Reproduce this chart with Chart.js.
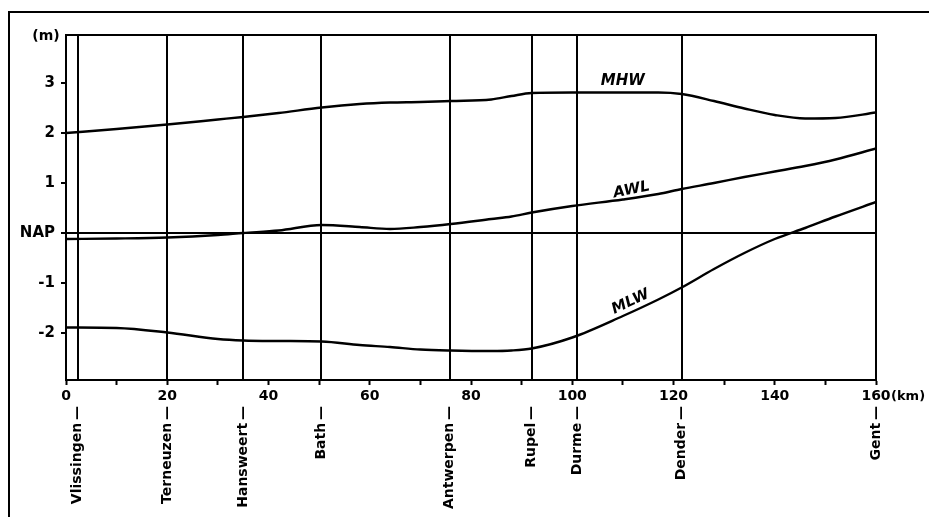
<!DOCTYPE html>
<html>
<head>
<meta charset="utf-8">
<script src="https://cdn.jsdelivr.net/npm/chart.js@4/dist/chart.umd.min.js"></script>
<style>
    html, body { margin: 0; padding: 0; background: #fff; }
    #wrap { position: relative; width: 929px; height: 517px; }
</style>
</head>
<body>
<div id="wrap"><canvas id="tideChart" width="929" height="517"></canvas></div>
<script>
// distance along the estuary (km)
var km  = [0, 10, 20, 30, 35, 42, 50.5, 58, 64, 70, 76, 84, 88, 92, 100, 110, 117, 121.6, 128, 134, 140, 146, 152, 160];
// water levels (m relative to NAP)
var mhw = [2.00, 2.08, 2.17, 2.27, 2.32, 2.40, 2.51, 2.58, 2.61, 2.62, 2.64, 2.67, 2.74, 2.80, 2.81, 2.81, 2.81, 2.78, 2.64, 2.49, 2.36, 2.29, 2.30, 2.41];
var awl = [-0.12, -0.11, -0.09, -0.04, 0.00, 0.05, 0.16, 0.12, 0.08, 0.12, 0.18, 0.28, 0.33, 0.41, 0.54, 0.67, 0.78, 0.88, 1.00, 1.12, 1.23, 1.34, 1.47, 1.69];
var mlw = [-1.89, -1.90, -1.99, -2.12, -2.15, -2.16, -2.17, -2.24, -2.28, -2.33, -2.35, -2.36, -2.35, -2.31, -2.09, -1.66, -1.33, -1.09, -0.72, -0.40, -0.12, 0.10, 0.33, 0.62];

// stations along the river
var stations   = ['Vlissingen', 'Terneuzen', 'Hansweert', 'Bath', 'Antwerpen', 'Rupel', 'Durme', 'Dender', 'Gent'];
var stationKm  = [2.3, 20, 35, 50.4, 75.8, 92, 101, 121.6, 160];

var yTicks = [-2, -1, 0, 1, 2, 3];
var xTicksMajor = [0, 20, 40, 60, 80, 100, 120, 140, 160];

var FONT = '"DejaVu Sans", sans-serif';

function pts(ys) {
    return km.map(function (k, i) { return {x: k, y: ys[i]}; });
}

function lineSet(name, ys) {
    return {
        label: name,
        data: pts(ys),
        borderColor: '#000',
        borderWidth: 2.4,
        pointRadius: 0,
        fill: false,
        cubicInterpolationMode: 'monotone'
    };
}

// stations, curve names, frame and units
var decor = {
    id: 'decor',
    beforeDatasetsDraw: function (chart) {
        var c = chart.ctx, xs = chart.scales.x, a = chart.chartArea;
        c.save();
        c.strokeStyle = '#000';
        c.lineWidth = 2;
        stationKm.forEach(function (k) {
            var x = Math.round(xs.getPixelForValue(k));
            c.beginPath();
            c.moveTo(x, a.top);
            c.lineTo(x, a.bottom);
            c.stroke();
        });
        // box round the plot
        c.strokeRect(a.left, a.top, a.right - a.left, a.bottom - a.top);
        c.restore();
    },
    afterDraw: function (chart) {
        var c = chart.ctx, xs = chart.scales.x, ys = chart.scales.y;
        c.save();
        c.fillStyle = '#000';
        c.strokeStyle = '#000';

        // outer frame (top and left only)
        c.lineWidth = 2;
        c.beginPath();
        c.moveTo(9, 517);
        c.lineTo(9, 12);
        c.lineTo(929, 12);
        c.stroke();

        // station names under the axis
        c.font = 'bold 14px ' + FONT;
        c.textAlign = 'right';
        c.textBaseline = 'middle';
        stations.forEach(function (s, i) {
            var x = xs.getPixelForValue(stationKm[i]);
            c.save();
            c.translate(x, 406);
            c.rotate(-Math.PI / 2);
            c.fillText(s + '\u2009\u2014', 0, 0);
            c.restore();
        });

        // units
        c.font = 'bold 14px ' + FONT;
        c.textAlign = 'center';
        c.fillText('(m)', 46, 36);
        c.textAlign = 'left';
        c.textBaseline = 'top';
        c.font = 'bold 13px ' + FONT;
        c.fillText('(km)', xs.getPixelForValue(160) + 15, 390);

        // curve names
        c.font = 'italic bold 15px ' + FONT;
        c.textAlign = 'center';
        c.textBaseline = 'middle';
        var names = [['MHW', 110, 3.04, 0], ['AWL', 111.7, 0.86, -0.2], ['MLW', 111.5, -1.38, -0.44]];
        names.forEach(function (n) {
            c.save();
            c.translate(xs.getPixelForValue(n[1]), ys.getPixelForValue(n[2]));
            c.rotate(n[3]);
            c.fillText(n[0], 0, 0);
            c.restore();
        });
        c.restore();
    }
};

var ctx = document.getElementById('tideChart');
var tideChart = new Chart(ctx, {
    type: 'line',
    data: {
        datasets: [lineSet('MHW', mhw), lineSet('AWL', awl), lineSet('MLW', mlw)]
    },
    options: {
        responsive: false,
        animation: false,
        devicePixelRatio: 1,
        layout: { padding: { top: 35, right: 53, left: 0, bottom: 0 } },
        plugins: { legend: { display: false }, tooltip: { enabled: false } },
        scales: {
            x: {
                type: 'linear',
                min: 0,
                max: 160,
                afterFit: function (s) { s.height = 137; },
                ticks: {
                    stepSize: 10,
                    autoSkip: false,
                    maxRotation: 0,
                    padding: 3,
                    color: '#000',
                    font: { family: FONT, size: 14, weight: 'bold' },
                    callback: function (v) { return xTicksMajor.indexOf(v) >= 0 ? String(v) : ''; }
                },
                grid: { drawOnChartArea: false, drawTicks: true, tickLength: 5, tickColor: '#000', tickWidth: 2 },
                border: { display: true, color: '#000', width: 2 }
            },
            y: {
                type: 'linear',
                min: -2.94,
                max: 3.96,
                afterFit: function (s) { s.width = 66; },
                afterBuildTicks: function (s) {
                    s.ticks = yTicks.map(function (v) { return {value: v}; });
                },
                ticks: {
                    padding: 6,
                    color: '#000',
                    font: { family: FONT, size: 15, weight: 'bold' },
                    callback: function (v) { return v === 0 ? 'NAP' : String(v); }
                },
                grid: {
                    drawOnChartArea: true,
                    tickLength: 5,
                    tickColor: '#000',
                    lineWidth: 2,
                    color: function (c) { return c.tick && c.tick.value === 0 ? '#000' : 'rgba(0,0,0,0)'; }
                },
                border: { display: true, color: '#000', width: 2 }
            }
        }
    },
    plugins: [decor]
});
</script>
</body>
</html>
